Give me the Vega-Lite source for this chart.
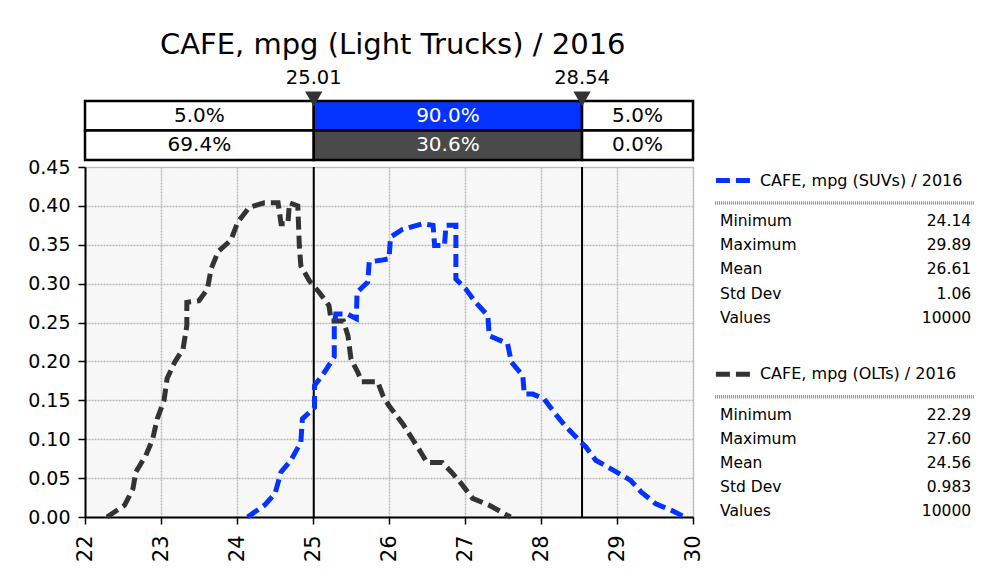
{
  "$schema": "https://vega.github.io/schema/vega-lite/v6.json",
  "background": "white",
  "padding": {"left": 27, "top": 31, "right": 5, "bottom": 5},
  "config": {"font": "DejaVu Sans", "view": {"stroke": null}, "text": {"color": "black"}},
  "datasets": {
    "curves": [
      {"series": "OLTs", "i": 1, "x": 22.29, "y": 0},
      {"series": "OLTs", "i": 2, "x": 22.52, "y": 0.015},
      {"series": "OLTs", "i": 3, "x": 22.63, "y": 0.036},
      {"series": "OLTs", "i": 4, "x": 22.67, "y": 0.058},
      {"series": "OLTs", "i": 5, "x": 22.8, "y": 0.079},
      {"series": "OLTs", "i": 6, "x": 22.89, "y": 0.1},
      {"series": "OLTs", "i": 7, "x": 22.95, "y": 0.126},
      {"series": "OLTs", "i": 8, "x": 23.04, "y": 0.15},
      {"series": "OLTs", "i": 9, "x": 23.08, "y": 0.178},
      {"series": "OLTs", "i": 10, "x": 23.18, "y": 0.199},
      {"series": "OLTs", "i": 11, "x": 23.29, "y": 0.216},
      {"series": "OLTs", "i": 12, "x": 23.34, "y": 0.246},
      {"series": "OLTs", "i": 13, "x": 23.34, "y": 0.276},
      {"series": "OLTs", "i": 14, "x": 23.5, "y": 0.278},
      {"series": "OLTs", "i": 15, "x": 23.61, "y": 0.293},
      {"series": "OLTs", "i": 16, "x": 23.66, "y": 0.319},
      {"series": "OLTs", "i": 17, "x": 23.75, "y": 0.341},
      {"series": "OLTs", "i": 18, "x": 23.92, "y": 0.356},
      {"series": "OLTs", "i": 19, "x": 24.01, "y": 0.379},
      {"series": "OLTs", "i": 20, "x": 24.16, "y": 0.398},
      {"series": "OLTs", "i": 21, "x": 24.36, "y": 0.404},
      {"series": "OLTs", "i": 22, "x": 24.54, "y": 0.404},
      {"series": "OLTs", "i": 23, "x": 24.58, "y": 0.377},
      {"series": "OLTs", "i": 24, "x": 24.67, "y": 0.377},
      {"series": "OLTs", "i": 25, "x": 24.69, "y": 0.404},
      {"series": "OLTs", "i": 26, "x": 24.8, "y": 0.4},
      {"series": "OLTs", "i": 27, "x": 24.82, "y": 0.349},
      {"series": "OLTs", "i": 28, "x": 24.84, "y": 0.323},
      {"series": "OLTs", "i": 29, "x": 24.95, "y": 0.304},
      {"series": "OLTs", "i": 30, "x": 25.08, "y": 0.289},
      {"series": "OLTs", "i": 31, "x": 25.21, "y": 0.272},
      {"series": "OLTs", "i": 32, "x": 25.24, "y": 0.252},
      {"series": "OLTs", "i": 33, "x": 25.4, "y": 0.252},
      {"series": "OLTs", "i": 34, "x": 25.46, "y": 0.233},
      {"series": "OLTs", "i": 35, "x": 25.5, "y": 0.203},
      {"series": "OLTs", "i": 36, "x": 25.59, "y": 0.186},
      {"series": "OLTs", "i": 37, "x": 25.64, "y": 0.174},
      {"series": "OLTs", "i": 38, "x": 25.85, "y": 0.174},
      {"series": "OLTs", "i": 39, "x": 25.92, "y": 0.156},
      {"series": "OLTs", "i": 40, "x": 26.0, "y": 0.143},
      {"series": "OLTs", "i": 41, "x": 26.18, "y": 0.12},
      {"series": "OLTs", "i": 42, "x": 26.31, "y": 0.1},
      {"series": "OLTs", "i": 43, "x": 26.42, "y": 0.083},
      {"series": "OLTs", "i": 44, "x": 26.5, "y": 0.07},
      {"series": "OLTs", "i": 45, "x": 26.7, "y": 0.07},
      {"series": "OLTs", "i": 46, "x": 26.82, "y": 0.058},
      {"series": "OLTs", "i": 47, "x": 26.95, "y": 0.043},
      {"series": "OLTs", "i": 48, "x": 27.1, "y": 0.024},
      {"series": "OLTs", "i": 49, "x": 27.32, "y": 0.015},
      {"series": "OLTs", "i": 50, "x": 27.54, "y": 0.003},
      {"series": "OLTs", "i": 51, "x": 27.6, "y": 0},
      {"series": "SUVs", "i": 1, "x": 24.14, "y": 0},
      {"series": "SUVs", "i": 2, "x": 24.36, "y": 0.015},
      {"series": "SUVs", "i": 3, "x": 24.5, "y": 0.03},
      {"series": "SUVs", "i": 4, "x": 24.58, "y": 0.058},
      {"series": "SUVs", "i": 5, "x": 24.71, "y": 0.073},
      {"series": "SUVs", "i": 6, "x": 24.84, "y": 0.096},
      {"series": "SUVs", "i": 7, "x": 24.86, "y": 0.126},
      {"series": "SUVs", "i": 8, "x": 25.02, "y": 0.141},
      {"series": "SUVs", "i": 9, "x": 25.02, "y": 0.169},
      {"series": "SUVs", "i": 10, "x": 25.15, "y": 0.186},
      {"series": "SUVs", "i": 11, "x": 25.28, "y": 0.206},
      {"series": "SUVs", "i": 12, "x": 25.28, "y": 0.246},
      {"series": "SUVs", "i": 13, "x": 25.3, "y": 0.261},
      {"series": "SUVs", "i": 14, "x": 25.45, "y": 0.261},
      {"series": "SUVs", "i": 15, "x": 25.57, "y": 0.255},
      {"series": "SUVs", "i": 16, "x": 25.58, "y": 0.289},
      {"series": "SUVs", "i": 17, "x": 25.72, "y": 0.302},
      {"series": "SUVs", "i": 18, "x": 25.74, "y": 0.328},
      {"series": "SUVs", "i": 19, "x": 25.89, "y": 0.33},
      {"series": "SUVs", "i": 20, "x": 26.0, "y": 0.332},
      {"series": "SUVs", "i": 21, "x": 26.02, "y": 0.36},
      {"series": "SUVs", "i": 22, "x": 26.18, "y": 0.37},
      {"series": "SUVs", "i": 23, "x": 26.44, "y": 0.377},
      {"series": "SUVs", "i": 24, "x": 26.58, "y": 0.375},
      {"series": "SUVs", "i": 25, "x": 26.6, "y": 0.349},
      {"series": "SUVs", "i": 26, "x": 26.73, "y": 0.349},
      {"series": "SUVs", "i": 27, "x": 26.75, "y": 0.375},
      {"series": "SUVs", "i": 28, "x": 26.88, "y": 0.375},
      {"series": "SUVs", "i": 29, "x": 26.88, "y": 0.306},
      {"series": "SUVs", "i": 30, "x": 27.01, "y": 0.293},
      {"series": "SUVs", "i": 31, "x": 27.14, "y": 0.276},
      {"series": "SUVs", "i": 32, "x": 27.3, "y": 0.259},
      {"series": "SUVs", "i": 33, "x": 27.32, "y": 0.233},
      {"series": "SUVs", "i": 34, "x": 27.56, "y": 0.223},
      {"series": "SUVs", "i": 35, "x": 27.61, "y": 0.199},
      {"series": "SUVs", "i": 36, "x": 27.76, "y": 0.182},
      {"series": "SUVs", "i": 37, "x": 27.78, "y": 0.158},
      {"series": "SUVs", "i": 38, "x": 27.89, "y": 0.158},
      {"series": "SUVs", "i": 39, "x": 28.04, "y": 0.152},
      {"series": "SUVs", "i": 40, "x": 28.17, "y": 0.135},
      {"series": "SUVs", "i": 41, "x": 28.31, "y": 0.118},
      {"series": "SUVs", "i": 42, "x": 28.46, "y": 0.103},
      {"series": "SUVs", "i": 43, "x": 28.59, "y": 0.09},
      {"series": "SUVs", "i": 44, "x": 28.72, "y": 0.073},
      {"series": "SUVs", "i": 45, "x": 28.99, "y": 0.058},
      {"series": "SUVs", "i": 46, "x": 29.18, "y": 0.047},
      {"series": "SUVs", "i": 47, "x": 29.32, "y": 0.032},
      {"series": "SUVs", "i": 48, "x": 29.51, "y": 0.017},
      {"series": "SUVs", "i": 49, "x": 29.73, "y": 0.008},
      {"series": "SUVs", "i": 50, "x": 29.89, "y": 0}
    ],
    "band": [
      {"row": "SUVs", "seg": "low", "lo": 22, "hi": 25.01, "pct": "5.0%"},
      {"row": "SUVs", "seg": "mid", "lo": 25.01, "hi": 28.54, "pct": "90.0%"},
      {"row": "SUVs", "seg": "high", "lo": 28.54, "hi": 30, "pct": "5.0%"},
      {"row": "OLTs", "seg": "low", "lo": 22, "hi": 25.01, "pct": "69.4%"},
      {"row": "OLTs", "seg": "mid", "lo": 25.01, "hi": 28.54, "pct": "30.6%"},
      {"row": "OLTs", "seg": "high", "lo": 28.54, "hi": 30, "pct": "0.0%"}
    ],
    "cuts": [{"x": 25.01}, {"x": 28.54}],
    "heads": [
      {"series": "SUVs", "key": "SUVs head", "name": "CAFE, mpg (SUVs) / 2016"},
      {"series": "OLTs", "key": "OLTs head", "name": "CAFE, mpg (OLTs) / 2016"}
    ],
    "stats": [
      {"series": "SUVs", "key": "SUVs Minimum", "stat": "Minimum", "value": "24.14"},
      {"series": "SUVs", "key": "SUVs Maximum", "stat": "Maximum", "value": "29.89"},
      {"series": "SUVs", "key": "SUVs Mean", "stat": "Mean", "value": "26.61"},
      {"series": "SUVs", "key": "SUVs Std Dev", "stat": "Std Dev", "value": "1.06"},
      {"series": "SUVs", "key": "SUVs Values", "stat": "Values", "value": "10000"},
      {"series": "OLTs", "key": "OLTs Minimum", "stat": "Minimum", "value": "22.29"},
      {"series": "OLTs", "key": "OLTs Maximum", "stat": "Maximum", "value": "27.60"},
      {"series": "OLTs", "key": "OLTs Mean", "stat": "Mean", "value": "24.56"},
      {"series": "OLTs", "key": "OLTs Std Dev", "stat": "Std Dev", "value": "0.983"},
      {"series": "OLTs", "key": "OLTs Values", "stat": "Values", "value": "10000"}
    ]
  },
  "title": {"text": "CAFE, mpg (Light Trucks) / 2016", "fontSize": 29, "fontWeight": "normal", "anchor": "middle", "offset": 8, "dx": -109, "color": "black", "font": "DejaVu Sans"},
  "bounds": "flush",
  "spacing": 7,
  "vconcat": [
    {
      "width": 608,
      "height": 59,
      "data": {"name": "band"},
      "layer": [
        {
          "mark": {"type": "rect", "stroke": "black", "strokeWidth": 2.5},
          "encoding": {
            "x": {"field": "lo", "type": "quantitative", "scale": {"domain": [22, 30], "nice": false, "zero": false}, "axis": null},
            "x2": {"field": "hi"},
            "y": {"field": "row", "type": "nominal", "scale": {"domain": ["SUVs", "OLTs"], "paddingInner": 0, "paddingOuter": 0}, "axis": null},
            "fill": {
              "condition": [
                {"test": "datum.seg === 'mid' && datum.row === 'SUVs'", "value": "#0433ff"},
                {"test": "datum.seg === 'mid' && datum.row === 'OLTs'", "value": "#4a4a4a"}
              ],
              "value": "white"
            }
          }
        },
        {
          "transform": [{"fold": ["lo", "hi"], "as": ["k", "v"]}],
          "mark": {"type": "text", "fontSize": 20, "baseline": "middle"},
          "encoding": {
            "x": {"aggregate": "mean", "field": "v", "type": "quantitative"},
            "y": {"field": "row", "type": "nominal"},
            "text": {"field": "pct", "type": "nominal"},
            "detail": {"field": "seg", "type": "nominal"},
            "color": {"condition": {"test": "datum.seg === 'mid'", "value": "white"}, "value": "black"}
          }
        },
        {
          "data": {"name": "cuts"},
          "mark": {"type": "point", "shape": "triangle-down", "filled": true, "color": "#333333", "size": 300, "opacity": 1, "yOffset": -2},
          "encoding": {
            "x": {"field": "x", "type": "quantitative"},
            "y": {"datum": "SUVs", "type": "nominal", "bandPosition": 0}
          }
        },
        {
          "data": {"name": "cuts"},
          "mark": {"type": "text", "fontSize": 19.5, "baseline": "middle", "dy": -23},
          "encoding": {
            "x": {"field": "x", "type": "quantitative"},
            "y": {"datum": "SUVs", "type": "nominal", "bandPosition": 0},
            "text": {"field": "x", "type": "quantitative", "format": ".2f"}
          }
        }
      ]
    },
    {
      "width": 608,
      "height": 350,
      "view": {"fill": "#f7f7f7", "stroke": "#c8c8c8"},
      "resolve": {"scale": {"x": "independent", "y": "independent"}, "axis": {"x": "independent", "y": "independent"}},
      "layer": [
        {
          "layer": [
            {
              "data": {"name": "cuts"},
              "mark": {"type": "rule", "color": "black", "strokeWidth": 2},
              "encoding": {"x": {"field": "x", "type": "quantitative", "scale": {"domain": [22, 30], "nice": false, "zero": false}}}
            },
            {
              "data": {"name": "curves"},
              "mark": {"type": "line", "strokeWidth": 5, "strokeDash": [13, 6], "strokeCap": "butt"},
              "encoding": {
                "x": {
                  "field": "x", "type": "quantitative",
                  "scale": {"domain": [22, 30], "nice": false, "zero": false},
                  "axis": {"title": null, "values": [22, 23, 24, 25, 26, 27, 28, 29, 30], "format": "d", "labelAngle": -90, "labelFontSize": 21, "labelColor": "black", "labelPadding": 11, "domainColor": "black", "domainWidth": 2, "tickColor": "black", "tickSize": 7, "tickWidth": 1.5, "grid": true, "gridColor": "#b8b8b8", "gridDash": [2, 1], "gridWidth": 1.5}
                },
                "y": {
                  "field": "y", "type": "quantitative",
                  "scale": {"domain": [0, 0.45], "nice": false},
                  "axis": {"title": null, "values": [0, 0.05, 0.1, 0.15, 0.2, 0.25, 0.3, 0.35, 0.4, 0.45], "format": ".2f", "labelFontSize": 19, "labelColor": "black", "labelPadding": 8, "domainColor": "black", "domainWidth": 2, "tickColor": "black", "tickSize": 7, "tickWidth": 1.5, "grid": true, "gridColor": "#b8b8b8", "gridDash": [2, 1], "gridWidth": 1.5}
                },
                "color": {"field": "series", "type": "nominal", "scale": {"domain": ["SUVs", "OLTs"], "range": ["#0433ff", "#333333"]}, "legend": null},
                "order": {"field": "i", "type": "quantitative"}
              }
            }
          ]
        },
        {
          "layer": [
            {
              "data": {"name": "heads"},
              "mark": {"type": "rule", "strokeWidth": 5, "strokeDash": [14, 6], "yOffset": 8},
              "encoding": {
                "x": {"datum": 0.015, "type": "quantitative", "scale": {"domain": [-2.3931, -0.0725], "nice": false, "zero": false}, "axis": null},
                "x2": {"datum": 0.145},
                "y": {"field": "key", "type": "nominal", "axis": null, "scale": {"type": "point", "domain": ["SUVs head", "SUVs sep", "SUVs Minimum", "SUVs Maximum", "SUVs Mean", "SUVs Std Dev", "SUVs Values", "gap", "OLTs head", "OLTs sep", "OLTs Minimum", "OLTs Maximum", "OLTs Mean", "OLTs Std Dev", "OLTs Values"], "padding": 0.2314, "align": 0.5}},
                "color": {"field": "series", "type": "nominal", "scale": {"domain": ["SUVs", "OLTs"], "range": ["#0433ff", "#333333"]}, "legend": null}
              }
            },
            {
              "data": {"name": "heads"},
              "mark": {"type": "text", "fontSize": 16, "align": "left", "baseline": "middle", "yOffset": 8},
              "encoding": {
                "x": {"datum": 0.183, "type": "quantitative"},
                "y": {"field": "key", "type": "nominal"},
                "text": {"field": "name", "type": "nominal"}
              }
            },
            {
              "data": {"name": "heads"},
              "mark": {"type": "rule", "strokeWidth": 3.5, "color": "#8a8a8a", "strokeDash": [1, 1], "yOffset": 30.5},
              "encoding": {
                "x": {"datum": 0.012, "type": "quantitative"},
                "x2": {"datum": 1.0},
                "y": {"field": "key", "type": "nominal"}
              }
            },
            {
              "data": {"name": "stats"},
              "mark": {"type": "text", "fontSize": 15.5, "align": "left", "baseline": "middle"},
              "encoding": {
                "x": {"datum": 0.031, "type": "quantitative"},
                "y": {"field": "key", "type": "nominal"},
                "text": {"field": "stat", "type": "nominal"}
              }
            },
            {
              "data": {"name": "stats"},
              "mark": {"type": "text", "fontSize": 15.5, "align": "right", "baseline": "middle"},
              "encoding": {
                "x": {"datum": 0.989, "type": "quantitative"},
                "y": {"field": "key", "type": "nominal"},
                "text": {"field": "value", "type": "nominal"}
              }
            }
          ]
        }
      ]
    }
  ]
}
